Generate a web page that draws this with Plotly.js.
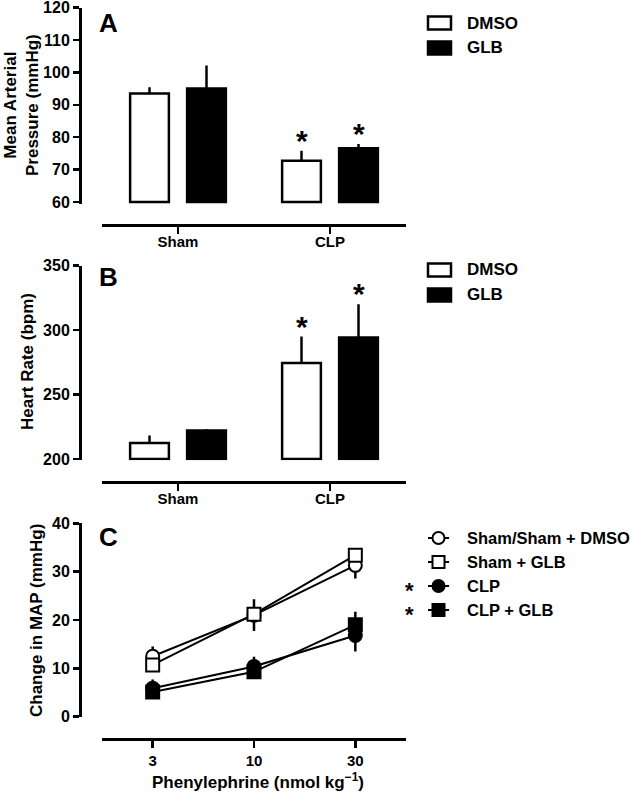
<!DOCTYPE html>
<html>
<head>
<meta charset="utf-8">
<script src="https://cdn.plot.ly/plotly-3.0.1.min.js"></script>
<style>
  html, body { margin: 0; padding: 0; background: #fff; }
  #chart { width: 638px; height: 792px; }
</style>
</head>
<body>
<div id="chart"></div>
<script>
// Panels A and B: group means with SEM (error drawn upward only)
const groups = ["Sham", "CLP"];
const mapDmso = [93.5, 72.7];
const mapDmsoErr = [1.9, 3.1];
const mapGlb = [95.0, 76.6];
const mapGlbErr = [7.1, 1.3];
const hrDmso = [212.5, 274.5];
const hrDmsoErr = [5.8, 20.5];
const hrGlb = [222.2, 294.3];
const hrGlbErr = [0.8, 25.8];
const starred = [false, true]; // significant vs Sham

// Panel C: pressor response to phenylephrine
const doses = ["3", "10", "30"];
const shamDmso = [12.5, 21.0, 31.3];
const shamDmsoErr = [2.0, 3.3, 2.7];
const shamGlb = [10.7, 21.2, 33.4];
const shamGlbErr = [1.0, 1.0, 1.0];
const clp = [5.9, 10.4, 16.8];
const clpErr = [1.8, 2.0, 3.3];
const clpGlb = [5.1, 9.3, 19.0];
const clpGlbErr = [0.6, 0.7, 2.7];

// tick values
const mapTicks = [60, 70, 80, 90, 100, 110, 120];
const hrTicks = [200, 250, 300, 350];
const changeTicks = [0, 10, 20, 30, 40];

const barNames = ["DMSO", "GLB"];
const lineNames = ["Sham/Sham + DMSO", "Sham + GLB", "CLP", "CLP + GLB"];

const FONT = "Liberation Sans, Arial, sans-serif";
const W = 638, H = 792;
const px = v => v / W;
const py = v => 1 - v / H;

function barTrace(vals, err, base, fill, name, xa, ya) {
  return {
    type: "bar",
    name: name,
    x: groups,
    y: vals.map(v => v - base),
    base: base,
    xaxis: xa,
    yaxis: ya,
    marker: { color: fill, line: { color: "black", width: 2.5 } },
    error_y: {
      type: "data", symmetric: false,
      array: err, arrayminus: err.map(() => 0),
      color: "black", thickness: 2.5, width: 0,
    },
    showlegend: false,
    hoverinfo: "skip",
  };
}

function lineTrace(vals, err, symbol, fill, name) {
  return {
    type: "scatter",
    mode: "lines+markers",
    name: name,
    x: doses,
    y: vals,
    xaxis: "x3",
    yaxis: "y3",
    line: { color: "black", width: 2 },
    marker: { symbol: symbol, size: 13, color: fill, line: { color: "black", width: 2 } },
    error_y: { type: "data", array: err, color: "black", thickness: 2.5, width: 0 },
    cliponaxis: false,
    showlegend: false,
    hoverinfo: "skip",
  };
}

const traces = [
  barTrace(mapDmso, mapDmsoErr, 60, "white", barNames[0], "x", "y"),
  barTrace(mapGlb, mapGlbErr, 60, "black", barNames[1], "x", "y"),
  barTrace(hrDmso, hrDmsoErr, 200, "white", barNames[0], "x2", "y2"),
  barTrace(hrGlb, hrGlbErr, 200, "black", barNames[1], "x2", "y2"),
  lineTrace(clp, clpErr, "circle", "black", lineNames[2]),
  lineTrace(clpGlb, clpGlbErr, "square", "black", lineNames[3]),
  lineTrace(shamDmso, shamDmsoErr, "circle", "white", lineNames[0]),
  lineTrace(shamGlb, shamGlbErr, "square", "white", lineNames[1]),
];

function xAxis(top, extra) {
  return Object.assign({
    domain: [px(102), px(406)],
    anchor: "free",
    position: py(top),
    showline: true, linewidth: 3, linecolor: "black",
    ticks: "outside", ticklen: 7, tickwidth: 2.5, tickcolor: "black",
    ticklabelstandoff: -5,
    ticklabeloverflow: "allow",
    showgrid: false, zeroline: false,
    tickfont: { size: 15 },
    fixedrange: true,
  }, extra);
}

function yAxis(top, bottom, range, ticks) {
  return {
    domain: [py(bottom), py(top)],
    range: range,
    anchor: "free",
    position: px(80),
    showline: true, linewidth: 3, linecolor: "black",
    ticks: "outside", ticklen: 6, tickwidth: 2.5, tickcolor: "black",
    tickmode: "array", tickvals: ticks,
    ticklabeloverflow: "allow",
    showgrid: false, zeroline: false,
    tickfont: { size: 16 },
    fixedrange: true,
  };
}

const annotations = [];
const shapes = [];

function note(x, y, text, size, extra) {
  annotations.push(Object.assign({
    xref: "paper", yref: "paper", x: px(x), y: py(y),
    xanchor: "center", yanchor: "middle",
    text: text, showarrow: false, font: { size: size },
  }, extra || {}));
}

// Panel letters and axis titles
note(97, 6, "A", 26, { xanchor: "left", yanchor: "top" });
note(97, 260, "B", 26, { xanchor: "left", yanchor: "top" });
note(97, 520, "C", 26, { xanchor: "left", yanchor: "top" });
note(21, 105, "Mean Arterial<br>Pressure (mmHg)", 17, { textangle: -90 });
note(27, 362, "Heart Rate (bpm)", 17, { textangle: -90 });
note(36, 621, "Change in MAP (mmHg)", 17, { textangle: -90 });
note(258, 781, "Phenylephrine (nmol kg<sup>\u22121</sup>)", 17);

// Stars over the CLP bars
function stars(dmso, dmsoErr, glb, glbErr, xa, ya) {
  groups.forEach((g, i) => {
    if (!starred[i]) return;
    [[dmso, dmsoErr, -28.5], [glb, glbErr, 28.5]].forEach(([v, e, shift]) => {
      annotations.push({
        xref: xa, yref: ya, x: i, y: v[i] + e[i], xshift: shift,
        yanchor: "bottom", yshift: -8,
        text: "*", showarrow: false, font: { size: 30 },
      });
    });
  });
}
stars(mapDmso, mapDmsoErr, mapGlb, mapGlbErr, "x", "y");
stars(hrDmso, hrDmsoErr, hrGlb, hrGlbErr, "x2", "y2");

// Bar legends (A and B)
function barLegend(top) {
  barNames.forEach((name, i) => {
    const cy = top + i * 25;
    shapes.push({
      type: "rect", xref: "paper", yref: "paper",
      x0: px(428), x1: px(451), y0: py(cy - 6.5), y1: py(cy + 6.5),
      fillcolor: i === 0 ? "white" : "black",
      line: { color: "black", width: 2.5 },
    });
    note(465, cy, name, 17, { xanchor: "left" });
  });
}
barLegend(23);
barLegend(270);

// Line legend (C)
const legSymbols = ["circle", "rect", "circle", "rect"];
const legFills = ["white", "white", "black", "black"];
lineNames.forEach((name, i) => {
  const cy = 538 + i * 24;
  shapes.push({
    type: "line", xref: "paper", yref: "paper",
    x0: px(428), x1: px(449), y0: py(cy), y1: py(cy),
    line: { color: "black", width: 2 },
  });
  shapes.push({
    type: legSymbols[i], xref: "paper", yref: "paper",
    x0: px(432.5), x1: px(444.5), y0: py(cy - 6), y1: py(cy + 6),
    fillcolor: legFills[i], line: { color: "black", width: 2 },
  });
  note(465, cy, name, 16.5, { xanchor: "left" });
  if (i >= 2) note(409, cy + 4, "*", 22);
});

const layout = {
  width: W,
  height: H,
  margin: { l: 0, r: 0, t: 0, b: 0 },
  paper_bgcolor: "white",
  plot_bgcolor: "white",
  font: { family: FONT, size: 15, color: "black", weight: "bold" },
  barmode: "group",
  bargap: 0.25,
  bargroupgap: 0.32,
  showlegend: false,
  xaxis: xAxis(225, {}),
  yaxis: yAxis(7.5, 204, [59.4, 120], mapTicks),
  xaxis2: xAxis(482, {}),
  yaxis2: yAxis(265.7, 460.3, [199, 350], hrTicks),
  xaxis3: xAxis(739, { type: "category", range: [-0.5, 2.5], ticklabelstandoff: 0 }),
  yaxis3: yAxis(523.3, 716.7, [0, 40], changeTicks),
  annotations: annotations,
  shapes: shapes,
};

Plotly.newPlot("chart", traces, layout, { displayModeBar: false, staticPlot: true });
</script>
</body>
</html>
